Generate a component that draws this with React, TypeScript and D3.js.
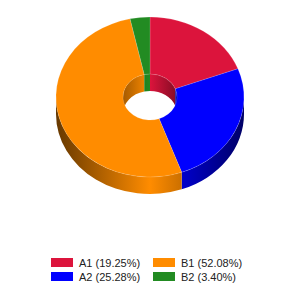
import * as d3 from "d3";

const labels = ["A1", "A2", "B1", "B2"];
const values = [19.25, 25.28, 52.08, 3.4];
const colors = ["#DC143C", "#0000FF", "#FF8C00", "#228B22"];

const W = 300;
const H = 300;
const cx = 150;
const cy = 97;
const rx = 94;
const ry = 80;
const irx = 27;
const iry = 23;
const depth = 17;

function pt(a: number, r1: number, r2: number, dy = 0) {
    return [cx + r1 * Math.sin(a), cy - r2 * Math.cos(a) + dy];
}

function topPath(a0: number, a1: number) {
    const large = a1 - a0 > Math.PI ? 1 : 0;
    const [x0, y0] = pt(a0, rx, ry);
    const [x1, y1] = pt(a1, rx, ry);
    const [x2, y2] = pt(a1, irx, iry);
    const [x3, y3] = pt(a0, irx, iry);
    return `M${x0},${y0}A${rx},${ry} 0 ${large} 1 ${x1},${y1}L${x2},${y2}A${irx},${iry} 0 ${large} 0 ${x3},${y3}Z`;
}

// wall between an arc on top and the same arc shifted down by depth
function wallPath(a0: number, a1: number, r1: number, r2: number) {
    const large = a1 - a0 > Math.PI ? 1 : 0;
    const [x0, y0] = pt(a0, r1, r2);
    const [x1, y1] = pt(a1, r1, r2);
    const [x2, y2] = pt(a1, r1, r2, depth);
    const [x3, y3] = pt(a0, r1, r2, depth);
    return `M${x0},${y0}A${r1},${r2} 0 ${large} 1 ${x1},${y1}L${x2},${y2}A${r1},${r2} 0 ${large} 0 ${x3},${y3}Z`;
}

function clip(a0: number, a1: number, lo: number, hi: number) {
    const s = Math.max(a0, lo);
    const e = Math.min(a1, hi);
    return e > s ? [s, e] : null;
}

function shade(c: string, k: number) {
    const col = d3.rgb(c);
    return d3.rgb(col.r * k, col.g * k, col.b * k).formatHex();
}

export default function App() {
    const pie = d3.pie<number>().sort(null).value((d) => d);
    const arcs = pie(values);

    const outerSides: { d: string; i: number }[] = [];
    const innerWalls: { d: string; i: number }[] = [];
    arcs.forEach((a, i) => {
        const f = clip(a.startAngle, a.endAngle, Math.PI / 2, (3 * Math.PI) / 2);
        if (f) outerSides.push({ d: wallPath(f[0], f[1], rx, ry), i });
        const b1 = clip(a.startAngle, a.endAngle, 0, Math.PI / 2);
        if (b1) innerWalls.push({ d: wallPath(b1[0], b1[1], irx, iry), i });
        const b2 = clip(a.startAngle, a.endAngle, (3 * Math.PI) / 2, 2 * Math.PI);
        if (b2) innerWalls.push({ d: wallPath(b2[0], b2[1], irx, iry), i });
    });

    const legendX = d3.scaleOrdinal<number, number>().domain([0, 1]).range([51, 153]);
    const legendY = d3.scaleOrdinal<number, number>().domain([0, 1]).range([258, 272]);

    return (
        <svg
            width={W}
            height={H}
            style={{ position: "absolute", left: 0, top: 0 }}
            fontFamily="Liberation Sans, Arial, sans-serif"
        >
            <defs>
                {colors.map((c, i) => (
                    <g key={i}>
                        <linearGradient id={`side${i}`} gradientUnits="userSpaceOnUse" x1={cx - rx} x2={cx + rx} y1={0} y2={0}>
                            <stop offset="0" stopColor={shade(c, 0.4)} />
                            <stop offset="0.5" stopColor={c} />
                            <stop offset="1" stopColor={shade(c, 0.4)} />
                        </linearGradient>
                        <linearGradient id={`inner${i}`} gradientUnits="userSpaceOnUse" x1={cx - irx} x2={cx + irx} y1={0} y2={0}>
                            <stop offset="0" stopColor={shade(c, 0.65)} />
                            <stop offset="0.5" stopColor={c} />
                            <stop offset="1" stopColor={shade(c, 0.6)} />
                        </linearGradient>
                    </g>
                ))}
            </defs>
            <rect width={W} height={H} fill="white" />
            {innerWalls.map((w, k) => (
                <path key={`iw${k}`} d={w.d} fill={`url(#inner${w.i})`} />
            ))}
            {outerSides.map((w, k) => (
                <path key={`os${k}`} d={w.d} fill={`url(#side${w.i})`} />
            ))}
            {arcs.map((a, i) => (
                <path
                    key={`t${i}`}
                    d={topPath(a.startAngle, a.endAngle)}
                    fill={colors[i]}
                    stroke="rgba(255,255,255,0.3)"
                    strokeWidth={0.5}
                />
            ))}
            {labels.map((l, i) => {
                const col = Math.floor(i / 2);
                const row = i % 2;
                const x = legendX(col);
                const y = legendY(row);
                return (
                    <g key={l}>
                        <rect x={x} y={y} width={22} height={9} fill={colors[i]} />
                        <text x={x + 28} y={y + 8.5} fontSize={11} fill="#222">
                            {`${l} (${values[i].toFixed(2)}%)`}
                        </text>
                    </g>
                );
            })}
        </svg>
    );
}
